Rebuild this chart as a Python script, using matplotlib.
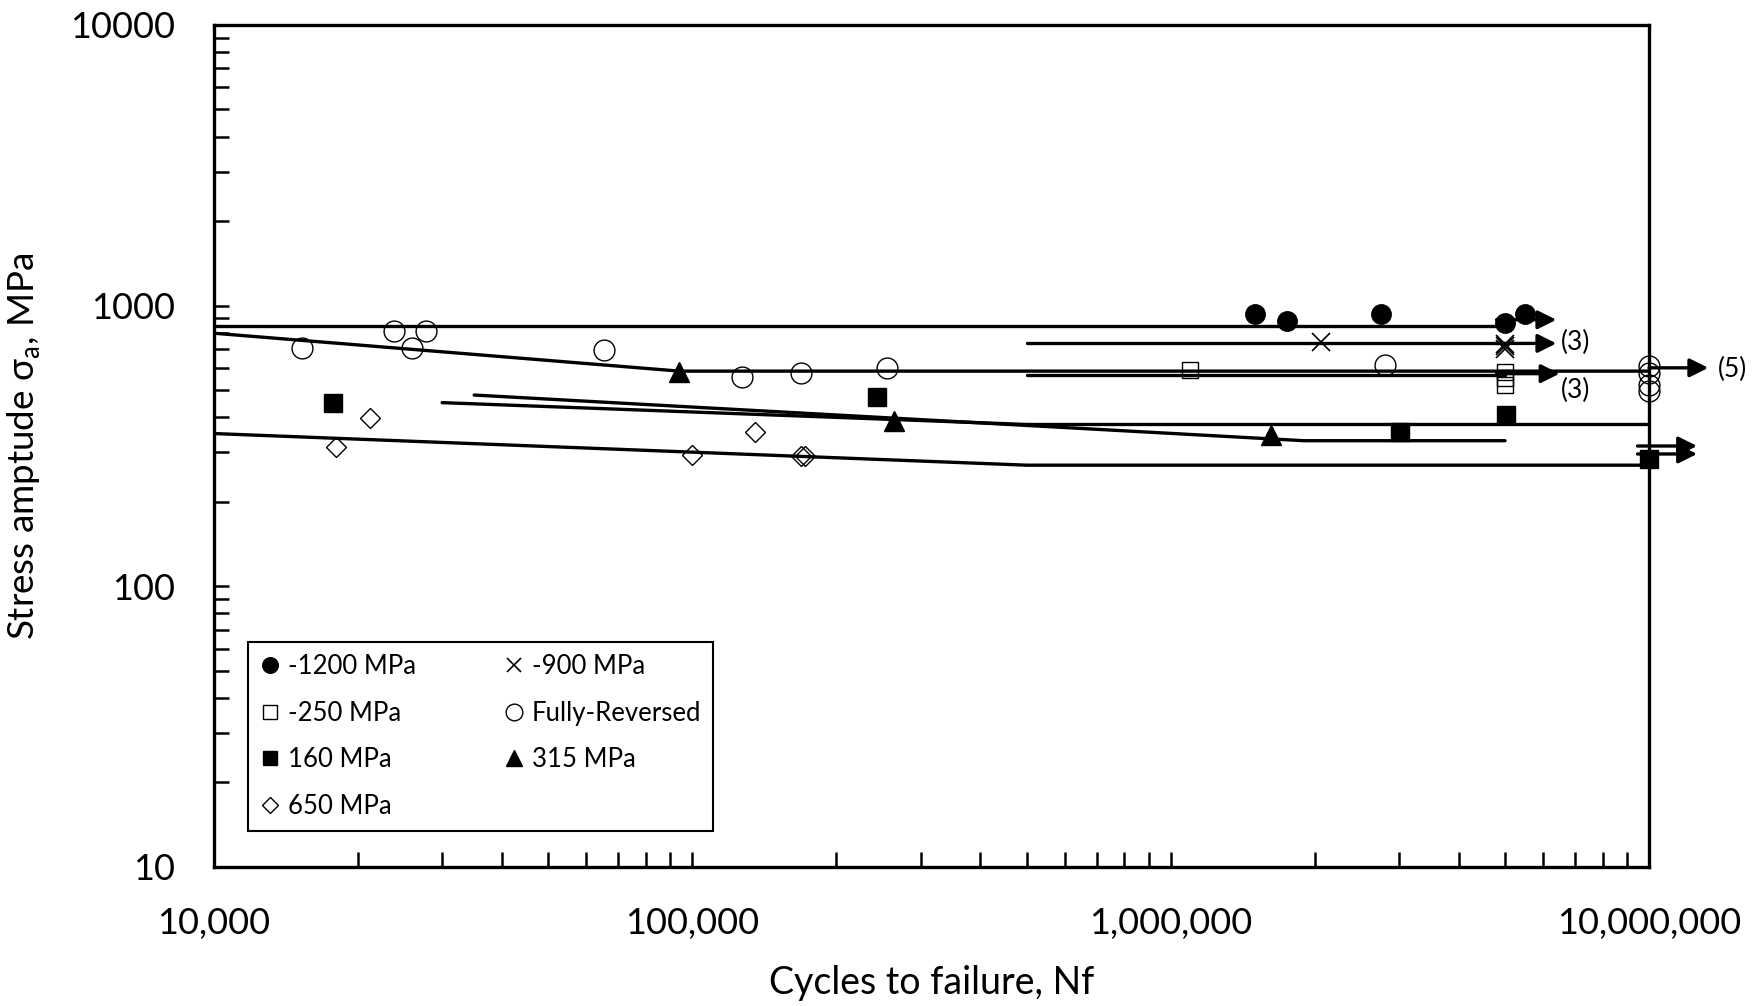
import numpy as np
import matplotlib.pyplot as plt
from matplotlib.ticker import FixedLocator, LogLocator, NullFormatter

plt.rcParams['font.family'] = ['Lato', 'DejaVu Sans']
plt.rcParams['mathtext.fontset'] = 'custom'
plt.rcParams['mathtext.rm'] = 'Lato'

# Dane punktowe (cykle do zniszczenia, amplituda naprężenia w MPa)
n_m1200 = [1.50e6, 1.75e6, 2.75e6, 5.0e6, 5.5e6]
s_m1200 = [930, 880, 930, 870, 935]

n_m900 = [2.06e6, 5.0e6, 5.0e6, 5.0e6]
s_m900 = [740, 730, 715, 700]

n_m250 = [1.1e6, 5.0e6, 5.0e6, 5.0e6]
s_m250 = [590, 580, 550, 520]

n_fr = [1.53e4, 2.38e4, 2.6e4, 2.77e4, 6.55e4, 1.27e5, 1.69e5, 2.55e5, 2.81e6,
        1.0e7, 1.0e7, 1.0e7, 1.0e7]
s_fr = [707, 811, 707, 811, 694, 556, 577, 598, 615, 610, 575, 520, 495]

n_160 = [1.77e4, 2.43e5, 3.02e6, 5.02e6, 1.0e7]
s_160 = [449, 471, 353, 406, 283]

n_315 = [9.37e4, 2.64e5, 1.62e6]
s_315 = [582, 388, 345]

n_650 = [1.80e4, 2.12e4, 1.0e5, 1.35e5, 1.69e5, 1.72e5]
s_650 = [313, 398, 294, 353, 292, 292]

# Krzywe dopasowania
fit_m1200_n = [1e4, 5e6]
fit_m1200_s = [845, 845]
fit_m900_n = [5e5, 5e6]
fit_m900_s = [733, 733]
fit_m250_n = [5e5, 5e6]
fit_m250_s = [566, 566]
fit_fr_n = [1e4, 9.4e4, 1e7]
fit_fr_s = [797, 584, 584]
fit_160_n = [3.0e4, 5e5, 1e7]
fit_160_s = [451, 377, 377]
fit_315_n = [3.5e4, 1.9e6, 5e6]
fit_315_s = [480, 330, 330]
fit_650_n = [1e4, 5e5, 1e7]
fit_650_s = [350, 270, 270]

# Strzałki (przebiegi bez zniszczenia): start N, koniec N, S
arrow_start = [4.8e6, 4.8e6, 4.8e6, 1.0e7, 9.46e6, 9.46e6]
arrow_end = [6.4e6, 6.4e6, 6.5e6, 1.33e7, 1.26e7, 1.26e7]
arrow_s = [890, 733, 572, 600, 316, 296]

notes = ['(3)', '(3)', '(5)']
notes_n = [6.55e6, 6.55e6, 1.39e7]
notes_s = [740, 498, 591]

fig = plt.figure(figsize=(17.65, 10.06), dpi=100)
ax = fig.add_axes([0.1212, 0.1382, 0.8131, 0.8371])

lw = 2.4
for n, s in [(fit_m1200_n, fit_m1200_s), (fit_m900_n, fit_m900_s),
             (fit_m250_n, fit_m250_s), (fit_fr_n, fit_fr_s),
             (fit_160_n, fit_160_s), (fit_315_n, fit_315_s),
             (fit_650_n, fit_650_s)]:
    ax.plot(n, s, color='black', lw=lw, solid_capstyle='round', zorder=2)

h1, = ax.plot(n_m1200, s_m1200, 'o', color='black', ms=14, clip_on=False, zorder=3)
h2, = ax.plot(n_m900, s_m900, 'x', color='black', ms=13, mew=1.2, clip_on=False, zorder=3)
h3, = ax.plot(n_m250, s_m250, 's', mfc='none', mec='black', ms=12, mew=1.0, clip_on=False, zorder=3)
h4, = ax.plot(n_fr, s_fr, 'o', mfc='none', mec='black', ms=15, mew=1.0, clip_on=False, zorder=3)
h5, = ax.plot(n_160, s_160, 's', color='black', ms=13, clip_on=False, zorder=3)
h6, = ax.plot(n_315, s_315, '^', color='black', ms=14, clip_on=False, zorder=3)
h7, = ax.plot(n_650, s_650, 'D', mfc='none', mec='black', ms=10, mew=1.0, clip_on=False, zorder=3)

for a, b, s in zip(arrow_start, arrow_end, arrow_s):
    ax.annotate('', xy=(b, s), xytext=(a, s), annotation_clip=False,
                arrowprops=dict(arrowstyle='-|>', color='black', lw=lw,
                                mutation_scale=28, shrinkA=0, shrinkB=0))

for t, n, s in zip(notes, notes_n, notes_s):
    ax.text(n, s, t, fontsize=19, ha='left', va='center', clip_on=False)

ax.set_xscale('log')
ax.set_yscale('log')
ax.set_xlim(1e4, 1e7)
ax.set_ylim(10, 1e4)

ax.xaxis.set_major_locator(FixedLocator([1e4, 1e5, 1e6, 1e7]))
ax.set_xticklabels(['10,000', '100,000', '1,000,000', '10,000,000'], fontsize=26)
ax.yaxis.set_major_locator(FixedLocator([10, 100, 1000, 10000]))
ax.set_yticklabels(['10', '100', '1000', '10000'], fontsize=26)
for axis in (ax.xaxis, ax.yaxis):
    axis.set_minor_locator(LogLocator(base=10, subs=np.arange(2, 10)))
    axis.set_minor_formatter(NullFormatter())

ax.tick_params(which='both', direction='in', top=False, right=False,
               width=1.8, length=11)
ax.tick_params(axis='y', which='both', pad=28)
ax.tick_params(axis='x', which='both', pad=29)
for sp in ax.spines.values():
    sp.set_linewidth(2.4)

ax.set_xlabel('Cycles to failure, Nf', fontsize=27)
ax.xaxis.set_label_coords(0.5, -0.117)
ax.set_ylabel(r'Stress amptude σ$_\mathrm{a}$, MPa', fontsize=26.5)
ax.yaxis.set_label_coords(-0.119, 0.5)

leg = ax.legend([h1, h3, h5, h7, h2, h4, h6],
                ['-1200 MPa', '-250 MPa', '160 MPa', '650 MPa',
                 '-900 MPa', 'Fully-Reversed', '315 MPa'],
                ncol=2, loc='lower left', bbox_to_anchor=(0.0237, 0.0428),
                borderaxespad=0, fontsize=18.5, markerscale=0.8,
                handlelength=0.8, handletextpad=0.3, columnspacing=3.4,
                labelspacing=0.84, fancybox=False, framealpha=1,
                edgecolor='black', borderpad=0.47)
leg.get_frame().set_linewidth(1.5)

fig.savefig('out.png', dpi=100)
